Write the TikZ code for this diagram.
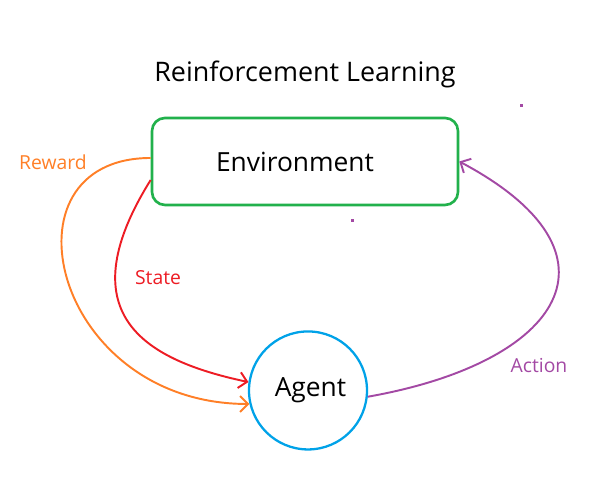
\documentclass[tikz,border=0pt]{standalone}
\usepackage{fontspec}
\setmainfont{Open Sans}
\usetikzlibrary{positioning, arrows.meta}
\definecolor{envgreen}{RGB}{34,177,76}
\definecolor{agentblue}{RGB}{0,162,232}
\definecolor{rewardorange}{RGB}{255,127,39}
\definecolor{statered}{RGB}{237,28,36}
\definecolor{actionpurple}{RGB}{163,73,164}

\begin{document}
\begin{tikzpicture}[box/.style={rectangle, rounded corners=0.26cm, draw=envgreen, line width=1.5pt, minimum width=6.12cm, minimum height=1.74cm, font=\fontsize{15}{18}\selectfont},
ball/.style={circle, minimum size=2.36cm, draw=agentblue, line width=1.3pt, font=\fontsize{15}{18}\selectfont},
link/.style={line width=1.1pt, -{Straight Barb[length=1.6mm, width=3.2mm]}},
lbl/.style={font=\fontsize{11}{13}\selectfont}]
\useasboundingbox (0,0) rectangle (12,10);
\node[box] (env) at (6.10,6.77) {\hspace*{-0.4cm}Environment};
\node[ball, below=2.48cm of env, xshift=0.06cm] (agent) {\hspace{0.1cm}Agent};
\node[above=0.45cm of env, font=\fontsize{15.3}{18}\selectfont] (title) {Reinforcement Learning};
\node[lbl, text=rewardorange] (reward) at (1.06,6.76) {Reward};
\node[lbl, text=statered] (state) at (3.16,4.44) {State};
\node[lbl, text=actionpurple] (action) at (10.78,2.68) {Action};

\draw[link, rewardorange] ([yshift=0.07cm]env.west) to[out=180, in=180, out looseness=1.5, in looseness=1.9] (agent.193);
\draw[link, statered] ([yshift=-0.37cm]env.west) to[out=238, in=168, out looseness=1.85, in looseness=1.15] (agent.172);
\draw[link, actionpurple] (agent.-6) to[out=10, in=-28, looseness=2] (env.east);

% stray dots
\fill[actionpurple] (10.39,7.85) rectangle (10.45,7.91);
\fill[actionpurple] (7.01,5.55) rectangle (7.07,5.61);
\end{tikzpicture}
\end{document}
